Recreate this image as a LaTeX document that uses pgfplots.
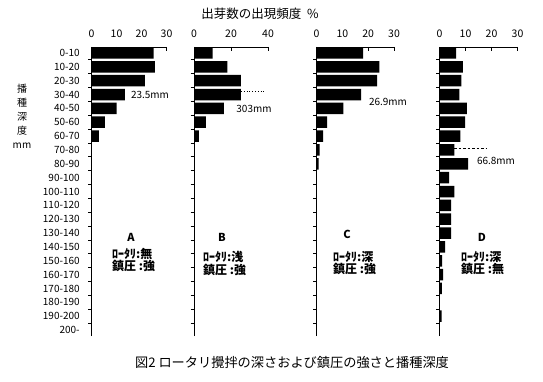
\documentclass[border=0pt]{standalone}
\usepackage{fontspec}
\setmainfont{Noto Sans CJK JP}
\usepackage{pgfplots}
\pgfplotsset{compat=1.18}
\pgfplotsset{
  panel/.style={
    scale only axis, width=76pt, height=289pt, anchor=north west,
    xmin=0, xmax=30, xtick={0,10,20,30},
    ymin=-20.43, ymax=0.43,
    axis x line=top, axis y line=left,
    axis line style={-, line width=0.9pt},
    every outer x axis line/.append style={-},
    every outer y axis line/.append style={-},
    x tick style={line width=0.9pt, black}, xtick align=inside,
    major x tick style={/pgfplots/major tick length=4pt},
    ytick={-20,...,0}, major y tick style={draw=none},
    minor ytick={-19.5,-18.5,...,-0.5},
    minor y tick style={line width=0.8pt, black, /pgfplots/minor tick length=3.5pt},
    ytick align=outside,
    yticklabels={},
    /pgf/number format/assume math mode=true,
    xticklabel style={font=\fontsize{10.5}{12}\selectfont, yshift=6pt},
    yticklabel style={font=\fontsize{10}{11}\selectfont, xshift=-4pt},
    xbar, bar width=11.5pt, bar shift=0pt,
    clip=false,
  },
  bars/.style={fill=black, draw=none},
}
\begin{document}
\begin{tikzpicture}
\path[use as bounding box] (0pt,0pt) rectangle (543pt,381pt);
\fill[white] (0pt,0pt) rectangle (543pt,381pt);

% Panel A
\begin{axis}[panel, at={(91.5pt,334pt)}, width=75pt,
  yticklabels={200-,190-200,180-190,170-180,160-170,150-160,140-150,130-140,120-130,110-120,100-110,90-100,80-90,70-80,60-70,50-60,40-50,30-40,20-30,10-20,0-10}]
\addplot[bars] coordinates {(24.8,0) (25.3,-1) (21.3,-2) (13.3,-3) (10.0,-4) (5.3,-5) (2.9,-6)};
\end{axis}

% Panel B
\begin{axis}[panel, at={(194pt,334pt)}, width=74pt, xmax=40, xtick={0,20,40}]
\addplot[bars] coordinates {(10.0,0) (18.1,-1) (25.4,-2) (25.4,-3) (16.1,-4) (6.4,-5) (2.6,-6)};
\end{axis}

% Panel C
\begin{axis}[panel, at={(316.5pt,334pt)}, width=77.5pt]
\addplot[bars] coordinates {(18.0,0) (24.3,-1) (23.5,-2) (17.3,-3) (10.4,-4) (4.1,-5) (2.6,-6) (1.2,-7) (0.8,-8)};
\end{axis}

% Panel D
\begin{axis}[panel, at={(439.5pt,334pt)}, width=78pt]
\addplot[bars] coordinates {(6.4,0) (9.0,-1) (8.4,-2) (7.6,-3) (10.5,-4) (9.9,-5) (8.0,-6) (5.7,-7) (11.0,-8) (3.7,-9) (5.7,-10) (4.5,-11) (4.5,-12) (4.5,-13) (2.2,-14) (1.0,-15) (1.4,-16) (0.9,-17) (0,-18) (0.8,-19) (0,-20)};
\end{axis}

% titles
\node[font=\fontsize{12.5}{14}\selectfont] at (260pt,367pt) {出芽数の出現頻度\ \ \%};
\node[font=\fontsize{10}{14.3}\selectfont, align=center] at (22pt,265pt) {播\\種\\深\\度\\[-1pt]mm};
\node[font=\fontsize{13.2}{15}\selectfont] at (292pt,18pt) {図2 ロータリ攪拌の深さおよび鎮圧の強さと播種深度};

% annotations
\node[font=\fontsize{10}{11}\selectfont] at (150pt,286pt) {23.5mm};
\draw[dotted, line width=0.8pt] (241pt,290pt) -- (266pt,290pt);
\node[font=\fontsize{10}{11}\selectfont] at (254pt,272pt) {303mm};
\node[font=\fontsize{10}{11}\selectfont] at (388pt,279pt) {26.9mm};
\draw[dashed, dash pattern=on 2.5pt off 2pt, line width=0.8pt] (454pt,233pt) -- (487pt,233pt);
\node[font=\fontsize{10}{11}\selectfont] at (496pt,220pt) {66.8mm};

% panel labels
\node[font=\bfseries\fontsize{11}{12}\selectfont] at (131pt,144pt) {A};
\node[font=\bfseries\fontsize{11}{12}\selectfont] at (222pt,144pt) {B};
\node[font=\bfseries\fontsize{11}{12}\selectfont] at (347pt,147pt) {C};
\node[font=\bfseries\fontsize{11}{12}\selectfont] at (482pt,144pt) {D};
\node[font=\bfseries\fontsize{12}{12.5}\selectfont, align=left, anchor=north west, inner sep=0pt] at (112pt,133pt) {ﾛｰﾀﾘ:無\\鎮圧 :強};
\node[font=\bfseries\fontsize{12}{12.5}\selectfont, align=left, anchor=north west, inner sep=0pt] at (203pt,130pt) {ﾛｰﾀﾘ:浅\\鎮圧 :強};
\node[font=\bfseries\fontsize{12}{12.5}\selectfont, align=left, anchor=north west, inner sep=0pt] at (333pt,130pt) {ﾛｰﾀﾘ:深\\鎮圧 :強};
\node[font=\bfseries\fontsize{12}{12.5}\selectfont, align=left, anchor=north west, inner sep=0pt] at (461pt,130pt) {ﾛｰﾀﾘ:深\\鎮圧 :無};
\end{tikzpicture}
\end{document}
